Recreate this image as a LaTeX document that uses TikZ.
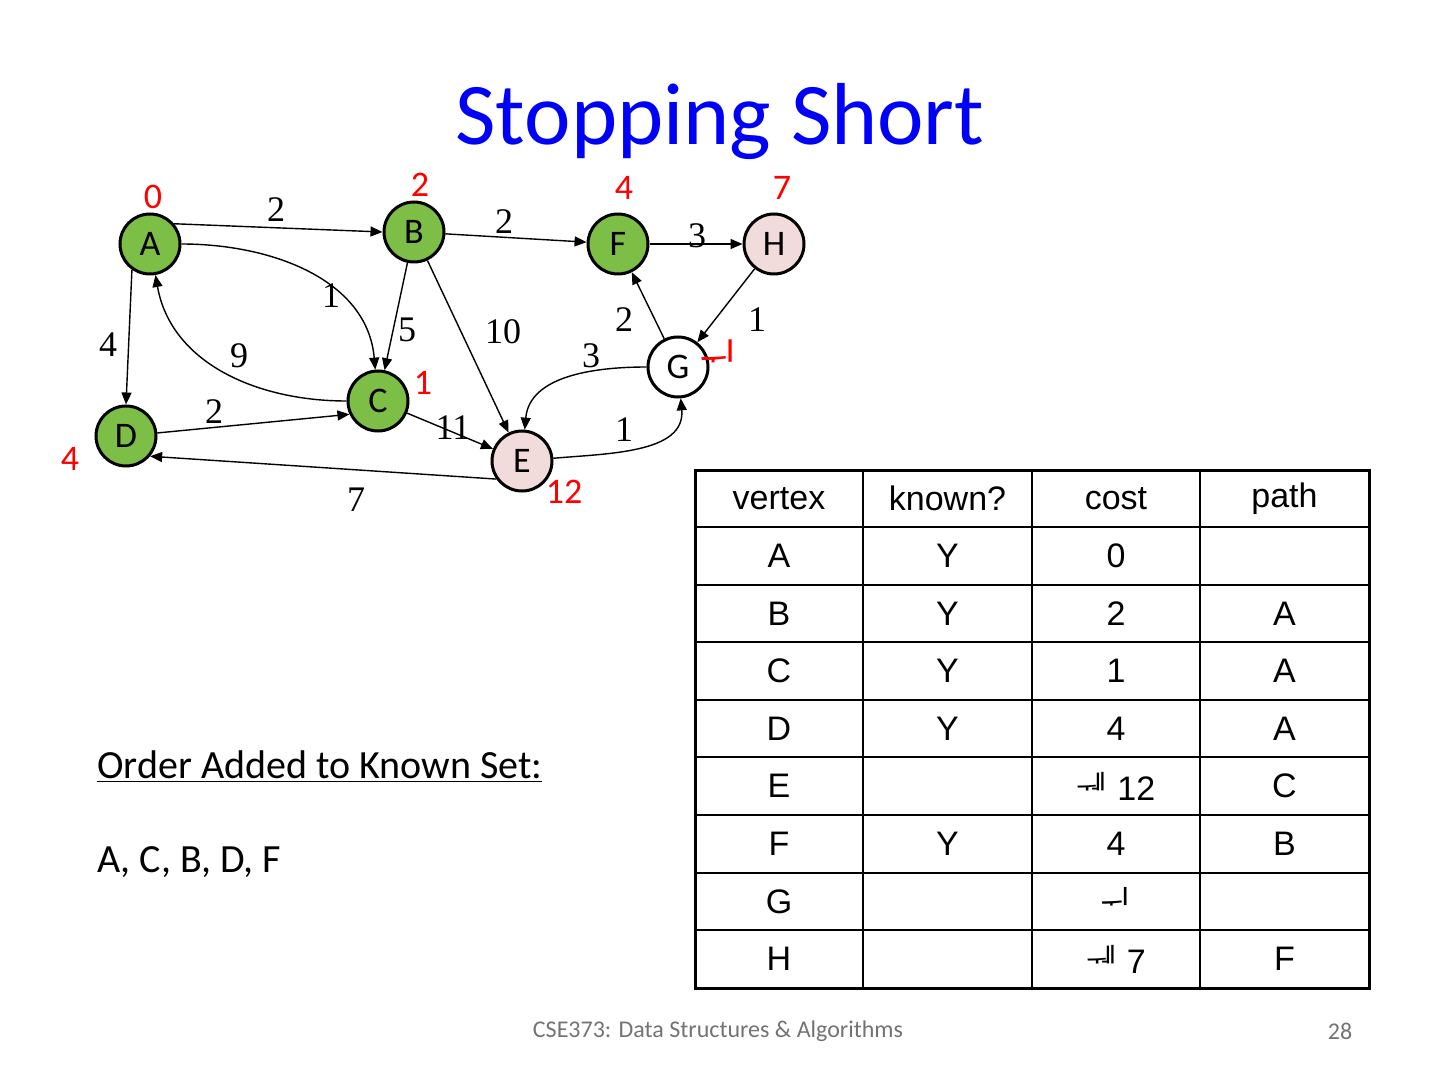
\documentclass[tikz,border=0pt]{standalone}
\usepackage{fontspec}
\setmainfont{Carlito}
\newfontfamily\tabfont{Liberation Sans}
\newfontfamily\wtfont{Liberation Serif}
\newfontfamily\krfont{Noto Sans CJK KR}
\usetikzlibrary{arrows.meta}
\definecolor{vgreen}{RGB}{125,190,70}
\definecolor{vpink}{RGB}{242,220,219}
\definecolor{slideblue}{RGB}{0,0,250}
\tikzset{
  vert/.style={circle, draw=black, line width=1.5pt, minimum size=30pt,
               inner sep=0pt, font=\fontsize{18}{18}\selectfont},
  wt/.style={font=\wtfont\fontsize{18}{18}\selectfont, inner sep=0pt},
  cost/.style={font=\fontsize{18}{18}\selectfont, text=red, inner sep=0pt},
  ar/.style={-{Triangle[length=6pt,width=5pt]}, line width=0.7pt},
  cell/.style={font=\tabfont\fontsize{17}{17}\selectfont, inner sep=0pt}
}
\begin{document}
\begin{tikzpicture}[x=0.5pt, y=-0.5pt]
\useasboundingbox (0,0) rectangle (1440,1080);
% ---- title ----
\node[font=\fontsize{44}{44}\selectfont, text=slideblue] (title) at (720,122) {Stopping Short};
% ---- vertices ----
\node[vert, fill=vgreen] (A) at (150,244) {A};
\node[vert, fill=vgreen] (B) at (414,232) {B};
\node[vert, fill=vgreen] (F) at (618,244) {F};
\node[vert, fill=vpink] (H) at (774,244) {H};
\node[vert, fill=white] (G) at (678,367) {G};
\node[vert, fill=vgreen] (C) at (378,401) {C};
\node[vert, fill=vgreen] (D) at (126,436) {D};
\node[vert, fill=vpink] (E) at (522,461) {E};
% ---- costs ----
\node[cost] (cA) at (153,197) {0};
\node[cost] (cB) at (420,185) {2};
\node[cost] (cF) at (624,188) {4};
\node[cost] (cH) at (782,188) {7};
\node[cost] (cC) at (423,383) {1};
\node[cost] (cD) at (70,459) {4};
\node[cost] (cE) at (564,492) {12};
\node[cost, font=\krfont\fontsize{21}{21}\selectfont] (cG) at (719,357) {ᅱ};
% ---- edges ----
\draw[ar] (A.40) -- (B.west);
\draw[ar] (B) -- (F);
\draw[ar] (F) -- (H);
\draw[ar] (A) to[out=0, in=95] (C);
\draw[ar] (C) to[out=180, in=-80] (A);
\draw[ar] (A.235) -- (D.north);
\draw[ar] (B) -- (C);
\draw[ar] (B) -- (E);
\draw[ar] (G) -- (F);
\draw[ar] (H) -- (G);
\draw[ar] (G) to[out=180, in=85] (E);
\draw[ar] (E) to[out=5, in=-85] (G);
\draw[ar] (D) -- (C.205);
\draw[ar] (C) -- (E);
\draw[ar] (E.215) -- (D.-40);
% ---- weights ----
\node[wt] (wAB) at (276,210) {2};
\node[wt] (wBF) at (504,222) {2};
\node[wt] (wFH) at (697,236) {3};
\node[wt] (wAC) at (331,296) {1};
\node[wt] (wCA) at (239,356) {9};
\node[wt] (wAD) at (108,345) {4};
\node[wt] (wBC) at (407,330) {5};
\node[wt] (wBE) at (503,332) {10};
\node[wt] (wGF) at (624,320) {2};
\node[wt] (wHG) at (757,320) {1};
\node[wt] (wGE) at (591,356) {3};
\node[wt] (wEG) at (624,430) {1};
\node[wt] (wDC) at (214,412) {2};
\node[wt] (wCE) at (453,428) {11};
\node[wt] (wED) at (356,500) {7};
% ---- table ----
\foreach \k in {1,...,7}
  \draw[line width=1pt] (695,527+57.6*\k) -- (1369,527+57.6*\k);
\draw[line width=1pt] (695,527) -- (1369,527);
\foreach \x in {863,1032,1200}
  \draw[line width=1pt] (\x,470) -- (\x,988);
\draw[line width=1.5pt] (695,470) rectangle (1369,988);
\foreach \i/\v/\k/\c/\p in {0/vertex/known?/cost/path,
    1/A/Y/0/, 2/B/Y/2/A, 3/C/Y/1/A, 4/D/Y/4/A,
    5/E//{{\krfont ᅰ} 12}/C, 6/F/Y/4/B, 7/G//{\krfont ᅱ}/, 8/H//{{\krfont ᅰ} 7}/F} {
  \pgfmathsetmacro\ry{\i==0 ? 498.5 : 527+57.6*(\i-0.5)}
  \node[cell] (v\i) at (779,\ry) {\v};
  \node[cell] (k\i) at (947.5,\ry) {\k};
  \node[cell] (c\i) at (1116,\ry) {\c};
  \node[cell] (p\i) at (1284.5,\ry) {\p};
}
% ---- known set ----
\node[anchor=west, font=\fontsize{20}{20}\selectfont, inner sep=0pt] (order) at (97,767) {\underline{Order Added to Known Set:}};
\node[anchor=west, font=\fontsize{20}{20}\selectfont, inner sep=0pt] (known) at (97,862) {A, C, B, D, F};
% ---- footer ----
\node[font=\fontsize{12}{12}\selectfont, text=black!55] (foot) at (718,1031) {CSE373: Data Structures \& Algorithms};
\node[font=\fontsize{12}{12}\selectfont, text=black!55] (page) at (1340,1031) {28};
\end{tikzpicture}
\end{document}
